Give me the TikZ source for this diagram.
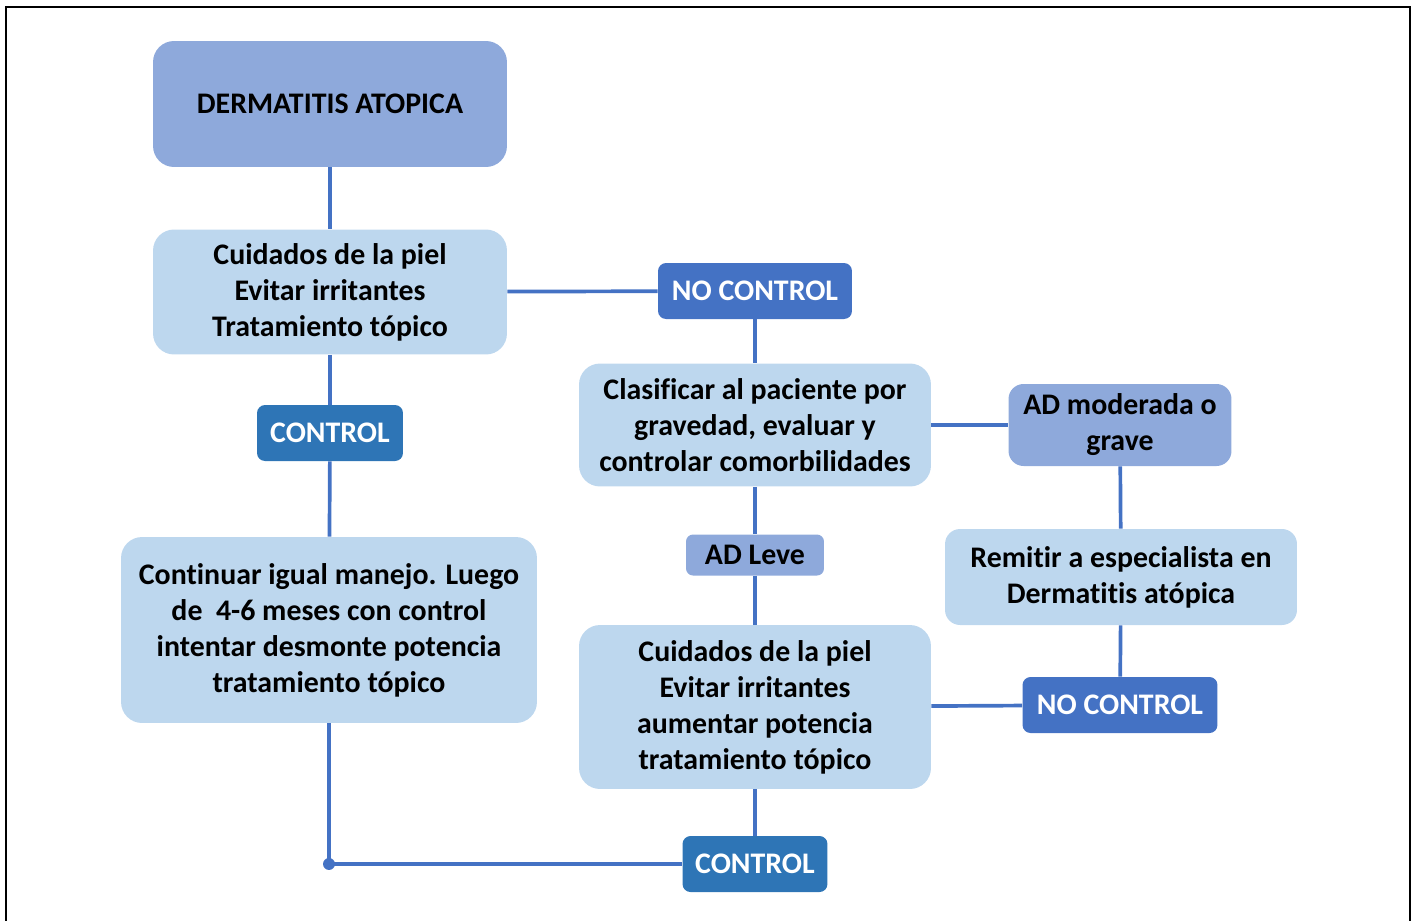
\documentclass[tikz,border=0pt]{standalone}
\usepackage{fontspec}
\setmainfont{Carlito}[RawFeature={-liga;-clig;-calt;-dlig}]
\definecolor{lineblue}{HTML}{4472C4}
\definecolor{midblue}{HTML}{8EA9DB}
\definecolor{paleblue}{HTML}{BDD7EE}
\definecolor{darkblue}{HTML}{2E75B6}
\tikzset{
  box/.style={fill=paleblue, rounded corners=0.42cm, align=center, inner sep=0pt,
    font=\fontsize{17}{20.5}\selectfont\bfseries},
  headbox/.style={box, fill=midblue},
  tagbox/.style={fill=darkblue, text=white, rounded corners=0.16cm, inner sep=0pt,
    font=\fontsize{17}{20.5}\selectfont\bfseries},
  notag/.style={tagbox, fill=lineblue},
  link/.style={lineblue, line width=2.1pt}
}
\begin{document}
\begin{tikzpicture}[x=0.02cm, y=-0.02cm]
  \useasboundingbox (0,0) rectangle (1416,920);
  \begin{scope}
    \clip (0,0) rectangle (1416,920);
    \draw[line width=1.2pt] (6,7) rectangle (1410,940);
  \end{scope}

  %%%%%%%%%%%%%%%%%%%%%%%%%%%%%%%%%%%%%%%%%%%%%%%%%%%%%%%%%%%%%%%%%%%%%%%%%%%
  %%%%  left column
  \node[headbox, minimum width=7.08cm, minimum height=2.52cm] (derm) at (330,104)
    {DERMATITIS ATOPICA};
  \node[box, minimum width=7.08cm, minimum height=2.5cm] (cuid) at (330,292)
    {Cuidados de la piel\\Evitar irritantes\\Tratamiento tópico};
  \node[tagbox, minimum width=2.92cm, minimum height=1.12cm] (ctrl) at (330,433)
    {CONTROL};
  \node[box, minimum width=8.32cm, minimum height=3.72cm] (cont) at (329,630)
    {Continuar igual manejo. Luego\\de\ \ 4-6 meses con control\\intentar desmonte potencia\\tratamiento tópico};

  %%%%%%%%%%%%%%%%%%%%%%%%%%%%%%%%%%%%%%%%%%%%%%%%%%%%%%%%%%%%%%%%%%%%%%%%%%%
  %%%%  middle column
  \node[notag, minimum width=3.88cm, minimum height=1.12cm] (noctrl) at (755,291)
    {NO CONTROL};
  \node[box, minimum width=7.04cm, minimum height=2.46cm] (clas) at (755,425)
    {Clasificar al paciente por\\gravedad, evaluar y\\controlar comorbilidades};
  \node[headbox, rounded corners=0.14cm, minimum width=2.76cm, minimum height=0.82cm] (leve) at (755,555)
    {AD Leve};
  \node[box, minimum width=7.04cm, minimum height=3.28cm] (cuidb) at (755,707)
    {Cuidados de la piel\\Evitar irritantes\\aumentar potencia\\tratamiento tópico};
  \node[tagbox, minimum width=2.9cm, minimum height=1.12cm] (ctrlb) at (755,864)
    {CONTROL};

  %%%%%%%%%%%%%%%%%%%%%%%%%%%%%%%%%%%%%%%%%%%%%%%%%%%%%%%%%%%%%%%%%%%%%%%%%%%
  %%%%  right column
  \node[headbox, rounded corners=0.3cm, minimum width=4.46cm, minimum height=1.64cm] (mod) at (1120,425)
    {AD moderada o\\grave};
  \node[box, rounded corners=0.3cm, minimum width=7.04cm, minimum height=1.92cm] (remit) at (1121,577)
    {Remitir a especialista en\\Dermatitis atópica};
  \node[notag, minimum width=3.9cm, minimum height=1.12cm] (noctrlb) at (1120,705)
    {NO CONTROL};

  \coordinate (corner) at (329,864);

  %%%%%%%%%%%%%%%%%%%%%%%%%%%%%%%%%%%%%%%%%%%%%%%%%%%%%%%%%%%%%%%%%%%%%%%%%%%
  \draw[link] (derm) -- (cuid);
  \draw[link] (cuid) -- (ctrl);
  \draw[link] (ctrl) -- (cont);
  \draw[link] (cuid) -- (noctrl);
  \draw[link] (noctrl) -- (clas);
  \draw[link] (clas) -- (mod);
  \draw[link] (mod) -- (remit);
  \draw[link] (remit) -- (noctrlb);
  \draw[link] (noctrlb) -- (cuidb);
  \draw[link] (clas) -- (leve);
  \draw[link] (leve) -- (cuidb);
  \draw[link] (cuidb) -- (ctrlb);
  \draw[link] (cont) -- (corner) -- (ctrlb);
  \fill[lineblue] (corner) circle (3.4pt);
\end{tikzpicture}
\end{document}
